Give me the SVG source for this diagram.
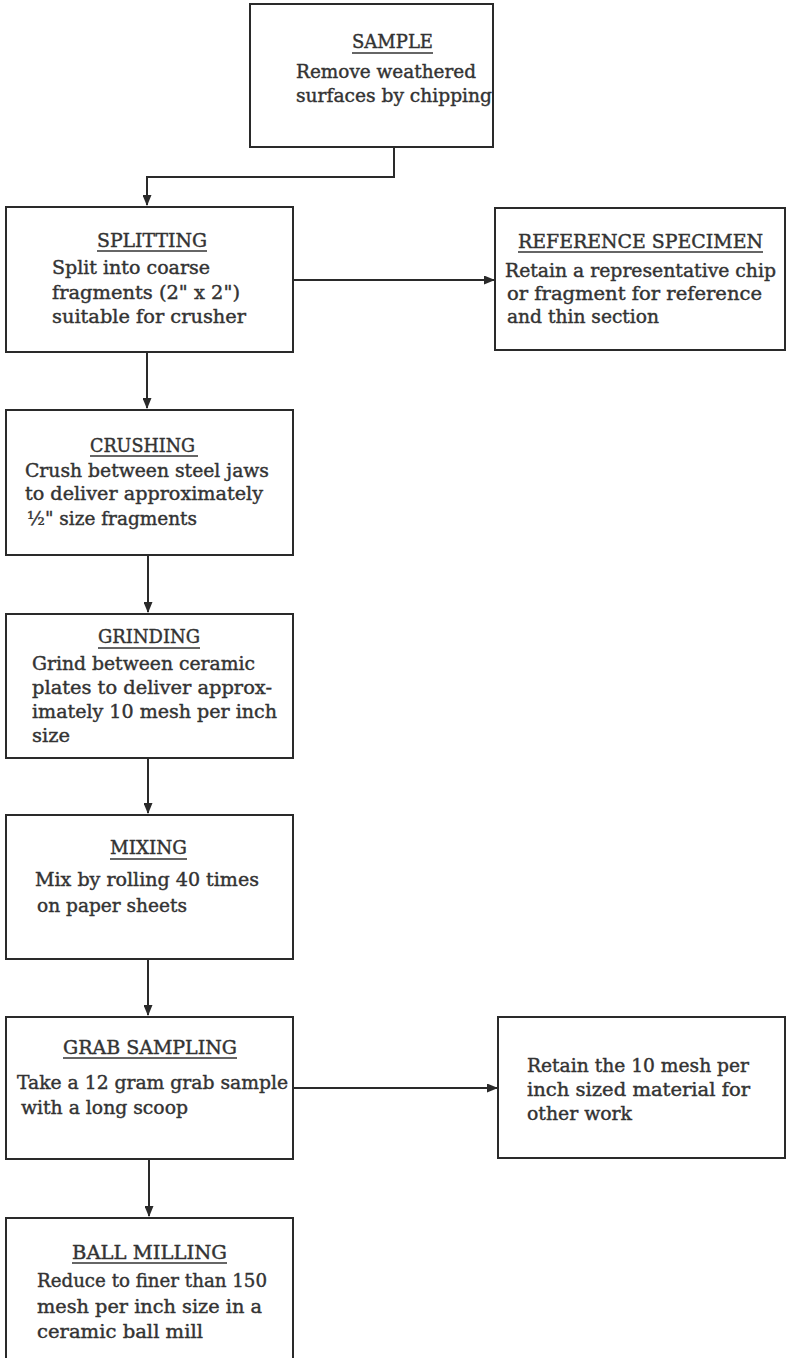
<svg xmlns="http://www.w3.org/2000/svg" width="786" height="1358" viewBox="0 0 786 1358">
<style>
  .box{fill:#fff;stroke:#2a2a2a;stroke-width:2}
  .t{font-family:"DejaVu Serif","Liberation Serif",serif;font-size:18px;fill:#333;stroke:#333;stroke-width:0.4}
  .u{stroke:#333;stroke-width:1.5}
  .c{fill:none;stroke:#2a2a2a;stroke-width:2}
</style>
<defs>
  <marker id="ah" markerWidth="11" markerHeight="9" refX="10" refY="4.5" orient="auto" markerUnits="userSpaceOnUse">
    <path d="M0,0 L11,4.5 L0,9 Z" fill="#2a2a2a"/>
  </marker>
</defs>
<rect width="786" height="1358" fill="#fff"/>

<g id="connectors">
  <path class="c" d="M394,147 V177 H147 V205" marker-end="url(#ah)"/>
  <path class="c" d="M293,280 H494" marker-end="url(#ah)"/>
  <path class="c" d="M147,352 V408" marker-end="url(#ah)"/>
  <path class="c" d="M148,555 V612" marker-end="url(#ah)"/>
  <path class="c" d="M148,758 V813" marker-end="url(#ah)"/>
  <path class="c" d="M148,959 V1015" marker-end="url(#ah)"/>
  <path class="c" d="M293,1088 H497" marker-end="url(#ah)"/>
  <path class="c" d="M149,1159 V1216" marker-end="url(#ah)"/>
</g>

<g id="sample">
  <rect class="box" x="250" y="4" width="243" height="143"/>
  <text class="t" x="352" y="48" textLength="81" lengthAdjust="spacingAndGlyphs">SAMPLE</text>
  <line class="u" x1="352" y1="53" x2="433" y2="53"/>
  <text class="t" x="296" y="78" textLength="180" lengthAdjust="spacingAndGlyphs">Remove weathered</text>
  <text class="t" x="296" y="102" textLength="196" lengthAdjust="spacingAndGlyphs">surfaces by chipping</text>
</g>

<g id="splitting">
  <rect class="box" x="6" y="207" width="287" height="145"/>
  <text class="t" x="97" y="247" textLength="110" lengthAdjust="spacingAndGlyphs">SPLITTING</text>
  <line class="u" x1="97" y1="251" x2="207" y2="251"/>
  <text class="t" x="52" y="274" textLength="158" lengthAdjust="spacingAndGlyphs">Split into coarse</text>
  <text class="t" x="52" y="299" textLength="188" lengthAdjust="spacingAndGlyphs">fragments (2" x 2")</text>
  <text class="t" x="52" y="323" textLength="194" lengthAdjust="spacingAndGlyphs">suitable for crusher</text>
</g>

<g id="reference">
  <rect class="box" x="495" y="208" width="290" height="142"/>
  <text class="t" x="518" y="248" textLength="245" lengthAdjust="spacingAndGlyphs">REFERENCE SPECIMEN</text>
  <line class="u" x1="518" y1="252" x2="763" y2="252"/>
  <text class="t" x="505" y="277" textLength="271" lengthAdjust="spacingAndGlyphs">Retain a representative chip</text>
  <text class="t" x="507" y="300" textLength="255" lengthAdjust="spacingAndGlyphs">or fragment for reference</text>
  <text class="t" x="507" y="323" textLength="152" lengthAdjust="spacingAndGlyphs">and thin section</text>
</g>

<g id="crushing">
  <rect class="box" x="6" y="410" width="287" height="145"/>
  <text class="t" x="90" y="452" textLength="105" lengthAdjust="spacingAndGlyphs">CRUSHING</text>
  <line class="u" x1="90" y1="456" x2="198" y2="456"/>
  <text class="t" x="25" y="477" textLength="244" lengthAdjust="spacingAndGlyphs">Crush between steel jaws</text>
  <text class="t" x="25" y="500" textLength="238" lengthAdjust="spacingAndGlyphs">to deliver approximately</text>
  <text class="t" x="27" y="525" textLength="170" lengthAdjust="spacingAndGlyphs">½" size fragments</text>
</g>

<g id="grinding">
  <rect class="box" x="6" y="614" width="287" height="144"/>
  <text class="t" x="98" y="643" textLength="102" lengthAdjust="spacingAndGlyphs">GRINDING</text>
  <line class="u" x1="98" y1="648" x2="200" y2="648"/>
  <text class="t" x="32" y="670" textLength="223" lengthAdjust="spacingAndGlyphs">Grind between ceramic</text>
  <text class="t" x="32" y="694" textLength="240" lengthAdjust="spacingAndGlyphs">plates to deliver approx-</text>
  <text class="t" x="32" y="718" textLength="245" lengthAdjust="spacingAndGlyphs">imately 10 mesh per inch</text>
  <text class="t" x="32" y="742" textLength="38" lengthAdjust="spacingAndGlyphs">size</text>
</g>

<g id="mixing">
  <rect class="box" x="6" y="815" width="287" height="144"/>
  <text class="t" x="110" y="854" textLength="77" lengthAdjust="spacingAndGlyphs">MIXING</text>
  <line class="u" x1="110" y1="859" x2="187" y2="859"/>
  <text class="t" x="35" y="886" textLength="224" lengthAdjust="spacingAndGlyphs">Mix by rolling 40 times</text>
  <text class="t" x="37" y="912" textLength="150" lengthAdjust="spacingAndGlyphs">on paper sheets</text>
</g>

<g id="grab-sampling">
  <rect class="box" x="6" y="1017" width="287" height="142"/>
  <text class="t" x="63" y="1054" textLength="174" lengthAdjust="spacingAndGlyphs">GRAB SAMPLING</text>
  <line class="u" x1="63" y1="1058" x2="237" y2="1058"/>
  <text class="t" x="17" y="1089" textLength="271" lengthAdjust="spacingAndGlyphs">Take a 12 gram grab sample</text>
  <text class="t" x="21" y="1114" textLength="167" lengthAdjust="spacingAndGlyphs">with a long scoop</text>
</g>

<g id="retain">
  <rect class="box" x="498" y="1017" width="287" height="141"/>
  <text class="t" x="527" y="1072" textLength="222" lengthAdjust="spacingAndGlyphs">Retain the 10 mesh per</text>
  <text class="t" x="527" y="1096" textLength="223" lengthAdjust="spacingAndGlyphs">inch sized material for</text>
  <text class="t" x="527" y="1120" textLength="105" lengthAdjust="spacingAndGlyphs">other work</text>
</g>

<g id="ball-milling">
  <rect class="box" x="6" y="1218" width="287" height="160"/>
  <text class="t" x="72" y="1259" textLength="155" lengthAdjust="spacingAndGlyphs">BALL MILLING</text>
  <line class="u" x1="72" y1="1263" x2="227" y2="1263"/>
  <text class="t" x="37" y="1287" textLength="230" lengthAdjust="spacingAndGlyphs">Reduce to finer than 150</text>
  <text class="t" x="37" y="1313" textLength="225" lengthAdjust="spacingAndGlyphs">mesh per inch size in a</text>
  <text class="t" x="37" y="1338" textLength="166" lengthAdjust="spacingAndGlyphs">ceramic ball mill</text>
</g>
</svg>
